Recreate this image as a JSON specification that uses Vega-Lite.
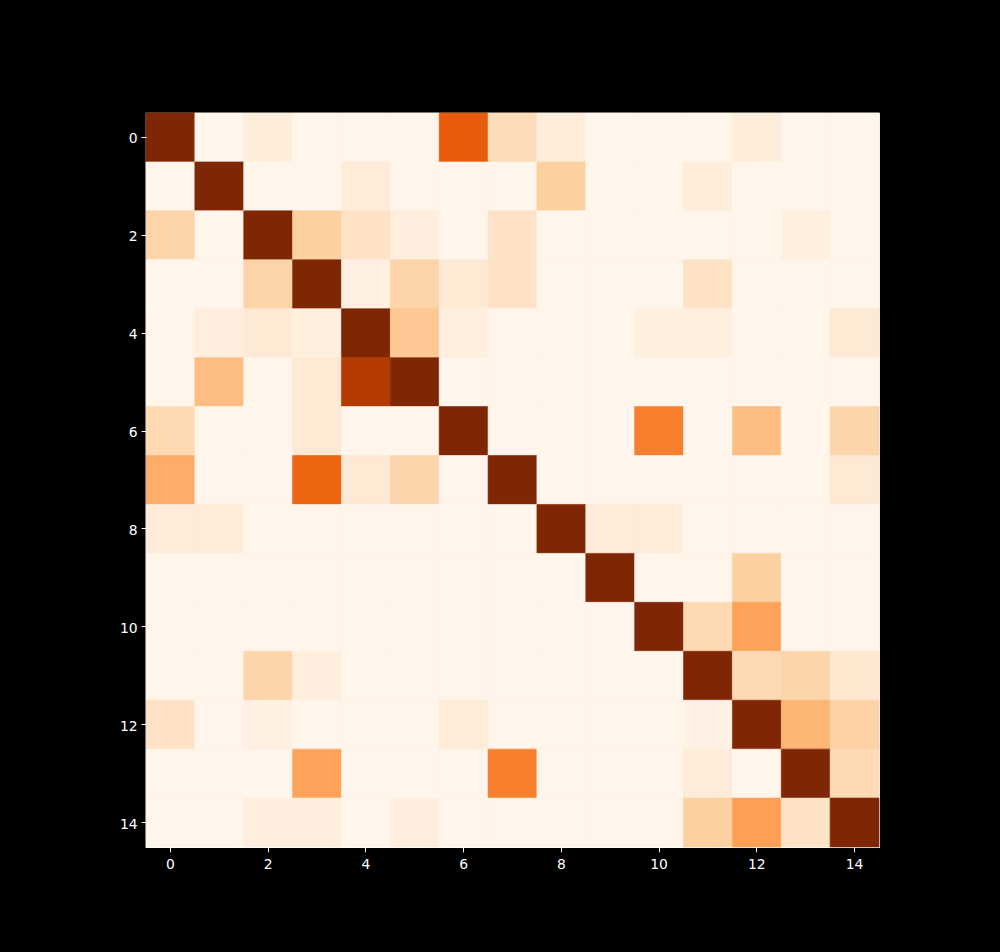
{
  "$schema": "https://vega.github.io/schema/vega-lite/v6.json",
  "width": 733,
  "height": 734,
  "autosize": {"type": "none"},
  "padding": {"left": 146, "top": 113, "right": 121, "bottom": 105},
  "background": "black",
  "config": {
    "view": {"stroke": "white", "strokeWidth": 1.2, "fill": "#fff5eb"},
    "axis": {
      "labelColor": "white",
      "tickColor": "white",
      "domain": false,
      "grid": false,
      "labelFont": "DejaVu Sans",
      "labelFontSize": 13.9,
      "tickSize": 4.9,
      "tickWidth": 1,
      "labelPadding": 4,
      "title": null
    }
  },
  "datasets": {
    "cells": [
      {"r":0,"c":0,"v":1},{"r":0,"c":1,"v":0},{"r":0,"c":2,"v":0.07},{"r":0,"c":3,"v":0},{"r":0,"c":4,"v":0},{"r":0,"c":5,"v":0},{"r":0,"c":6,"v":0.68},{"r":0,"c":7,"v":0.18},{"r":0,"c":8,"v":0.07},{"r":0,"c":9,"v":0},{"r":0,"c":10,"v":0},{"r":0,"c":11,"v":0},{"r":0,"c":12,"v":0.07},{"r":0,"c":13,"v":0},{"r":0,"c":14,"v":0},
      {"r":1,"c":0,"v":0},{"r":1,"c":1,"v":1},{"r":1,"c":2,"v":0},{"r":1,"c":3,"v":0},{"r":1,"c":4,"v":0.08},{"r":1,"c":5,"v":0},{"r":1,"c":6,"v":0},{"r":1,"c":7,"v":0},{"r":1,"c":8,"v":0.25},{"r":1,"c":9,"v":0},{"r":1,"c":10,"v":0},{"r":1,"c":11,"v":0.07},{"r":1,"c":12,"v":0},{"r":1,"c":13,"v":0},{"r":1,"c":14,"v":0},
      {"r":2,"c":0,"v":0.23},{"r":2,"c":1,"v":0},{"r":2,"c":2,"v":1},{"r":2,"c":3,"v":0.25},{"r":2,"c":4,"v":0.15},{"r":2,"c":5,"v":0.06},{"r":2,"c":6,"v":0},{"r":2,"c":7,"v":0.15},{"r":2,"c":8,"v":0},{"r":2,"c":9,"v":0},{"r":2,"c":10,"v":0},{"r":2,"c":11,"v":0},{"r":2,"c":12,"v":0},{"r":2,"c":13,"v":0.05},{"r":2,"c":14,"v":0},
      {"r":3,"c":0,"v":0},{"r":3,"c":1,"v":0},{"r":3,"c":2,"v":0.23},{"r":3,"c":3,"v":1},{"r":3,"c":4,"v":0.04},{"r":3,"c":5,"v":0.23},{"r":3,"c":6,"v":0.1},{"r":3,"c":7,"v":0.15},{"r":3,"c":8,"v":0},{"r":3,"c":9,"v":0},{"r":3,"c":10,"v":0},{"r":3,"c":11,"v":0.15},{"r":3,"c":12,"v":0},{"r":3,"c":13,"v":0},{"r":3,"c":14,"v":0},
      {"r":4,"c":0,"v":0},{"r":4,"c":1,"v":0.06},{"r":4,"c":2,"v":0.1},{"r":4,"c":3,"v":0.05},{"r":4,"c":4,"v":1},{"r":4,"c":5,"v":0.28},{"r":4,"c":6,"v":0.05},{"r":4,"c":7,"v":0},{"r":4,"c":8,"v":0},{"r":4,"c":9,"v":0},{"r":4,"c":10,"v":0.05},{"r":4,"c":11,"v":0.05},{"r":4,"c":12,"v":0},{"r":4,"c":13,"v":0},{"r":4,"c":14,"v":0.1},
      {"r":5,"c":0,"v":0},{"r":5,"c":1,"v":0.32},{"r":5,"c":2,"v":0},{"r":5,"c":3,"v":0.1},{"r":5,"c":4,"v":0.84},{"r":5,"c":5,"v":1},{"r":5,"c":6,"v":0},{"r":5,"c":7,"v":0},{"r":5,"c":8,"v":0},{"r":5,"c":9,"v":0},{"r":5,"c":10,"v":0},{"r":5,"c":11,"v":0},{"r":5,"c":12,"v":0},{"r":5,"c":13,"v":0},{"r":5,"c":14,"v":0},
      {"r":6,"c":0,"v":0.2},{"r":6,"c":1,"v":0},{"r":6,"c":2,"v":0},{"r":6,"c":3,"v":0.1},{"r":6,"c":4,"v":0},{"r":6,"c":5,"v":0},{"r":6,"c":6,"v":1},{"r":6,"c":7,"v":0},{"r":6,"c":8,"v":0},{"r":6,"c":9,"v":0},{"r":6,"c":10,"v":0.55},{"r":6,"c":11,"v":0},{"r":6,"c":12,"v":0.32},{"r":6,"c":13,"v":0},{"r":6,"c":14,"v":0.22},
      {"r":7,"c":0,"v":0.38},{"r":7,"c":1,"v":0},{"r":7,"c":2,"v":0},{"r":7,"c":3,"v":0.64},{"r":7,"c":4,"v":0.1},{"r":7,"c":5,"v":0.22},{"r":7,"c":6,"v":0},{"r":7,"c":7,"v":1},{"r":7,"c":8,"v":0},{"r":7,"c":9,"v":0},{"r":7,"c":10,"v":0},{"r":7,"c":11,"v":0},{"r":7,"c":12,"v":0},{"r":7,"c":13,"v":0},{"r":7,"c":14,"v":0.1},
      {"r":8,"c":0,"v":0.08},{"r":8,"c":1,"v":0.08},{"r":8,"c":2,"v":0},{"r":8,"c":3,"v":0},{"r":8,"c":4,"v":0},{"r":8,"c":5,"v":0},{"r":8,"c":6,"v":0},{"r":8,"c":7,"v":0},{"r":8,"c":8,"v":1},{"r":8,"c":9,"v":0.08},{"r":8,"c":10,"v":0.08},{"r":8,"c":11,"v":0},{"r":8,"c":12,"v":0},{"r":8,"c":13,"v":0},{"r":8,"c":14,"v":0},
      {"r":9,"c":0,"v":0},{"r":9,"c":1,"v":0},{"r":9,"c":2,"v":0},{"r":9,"c":3,"v":0},{"r":9,"c":4,"v":0},{"r":9,"c":5,"v":0},{"r":9,"c":6,"v":0},{"r":9,"c":7,"v":0},{"r":9,"c":8,"v":0},{"r":9,"c":9,"v":1},{"r":9,"c":10,"v":0},{"r":9,"c":11,"v":0},{"r":9,"c":12,"v":0.25},{"r":9,"c":13,"v":0},{"r":9,"c":14,"v":0},
      {"r":10,"c":0,"v":0},{"r":10,"c":1,"v":0},{"r":10,"c":2,"v":0},{"r":10,"c":3,"v":0},{"r":10,"c":4,"v":0},{"r":10,"c":5,"v":0},{"r":10,"c":6,"v":0},{"r":10,"c":7,"v":0},{"r":10,"c":8,"v":0},{"r":10,"c":9,"v":0},{"r":10,"c":10,"v":1},{"r":10,"c":11,"v":0.2},{"r":10,"c":12,"v":0.42},{"r":10,"c":13,"v":0},{"r":10,"c":14,"v":0},
      {"r":11,"c":0,"v":0},{"r":11,"c":1,"v":0},{"r":11,"c":2,"v":0.22},{"r":11,"c":3,"v":0.06},{"r":11,"c":4,"v":0},{"r":11,"c":5,"v":0},{"r":11,"c":6,"v":0},{"r":11,"c":7,"v":0},{"r":11,"c":8,"v":0},{"r":11,"c":9,"v":0},{"r":11,"c":10,"v":0},{"r":11,"c":11,"v":1},{"r":11,"c":12,"v":0.2},{"r":11,"c":13,"v":0.22},{"r":11,"c":14,"v":0.12},
      {"r":12,"c":0,"v":0.15},{"r":12,"c":1,"v":0},{"r":12,"c":2,"v":0.04},{"r":12,"c":3,"v":0},{"r":12,"c":4,"v":0},{"r":12,"c":5,"v":0},{"r":12,"c":6,"v":0.08},{"r":12,"c":7,"v":0},{"r":12,"c":8,"v":0},{"r":12,"c":9,"v":0},{"r":12,"c":10,"v":0},{"r":12,"c":11,"v":0.03},{"r":12,"c":12,"v":1},{"r":12,"c":13,"v":0.35},{"r":12,"c":14,"v":0.24},
      {"r":13,"c":0,"v":0},{"r":13,"c":1,"v":0},{"r":13,"c":2,"v":0},{"r":13,"c":3,"v":0.42},{"r":13,"c":4,"v":0},{"r":13,"c":5,"v":0},{"r":13,"c":6,"v":0},{"r":13,"c":7,"v":0.55},{"r":13,"c":8,"v":0},{"r":13,"c":9,"v":0},{"r":13,"c":10,"v":0},{"r":13,"c":11,"v":0.08},{"r":13,"c":12,"v":0},{"r":13,"c":13,"v":1},{"r":13,"c":14,"v":0.2},
      {"r":14,"c":0,"v":0},{"r":14,"c":1,"v":0},{"r":14,"c":2,"v":0.06},{"r":14,"c":3,"v":0.06},{"r":14,"c":4,"v":0},{"r":14,"c":5,"v":0.06},{"r":14,"c":6,"v":0},{"r":14,"c":7,"v":0},{"r":14,"c":8,"v":0},{"r":14,"c":9,"v":0},{"r":14,"c":10,"v":0},{"r":14,"c":11,"v":0.25},{"r":14,"c":12,"v":0.43},{"r":14,"c":13,"v":0.15},{"r":14,"c":14,"v":1}
    ]
  },
  "data": {"name": "cells"},
  "layer": [
    {
      "mark": {"type": "rect", "strokeWidth": 0.6},
      "encoding": {
        "x": {"field": "c", "type": "ordinal", "scale": {"domain": [0,1,2,3,4,5,6,7,8,9,10,11,12,13,14], "paddingInner": 0, "paddingOuter": 0},
              "axis": {"values": [0,2,4,6,8,10,12,14], "labelAngle": 0, "orient": "bottom", "labelPadding": 6}},
        "y": {"field": "r", "type": "ordinal", "scale": {"domain": [0,1,2,3,4,5,6,7,8,9,10,11,12,13,14], "paddingInner": 0, "paddingOuter": 0},
              "axis": {"values": [0,2,4,6,8,10,12,14], "orient": "left", "labelOffset": 2}},
        "color": {"field": "v", "type": "quantitative", "legend": null,
                  "scale": {"type": "linear", "domain": [0,0.125,0.25,0.375,0.5,0.625,0.75,0.875,1],
                            "range": ["#fff5eb","#fee6ce","#fdd0a2","#fdae6b","#fd8d3c","#f16913","#d94801","#a63603","#7f2704"]}},
        "stroke": {"field": "v", "type": "quantitative", "legend": null,
                  "scale": {"type": "linear", "domain": [0,0.125,0.25,0.375,0.5,0.625,0.75,0.875,1],
                            "range": ["#fff5eb","#fee6ce","#fdd0a2","#fdae6b","#fd8d3c","#f16913","#d94801","#a63603","#7f2704"]}}
      }
    }
  ]
}
